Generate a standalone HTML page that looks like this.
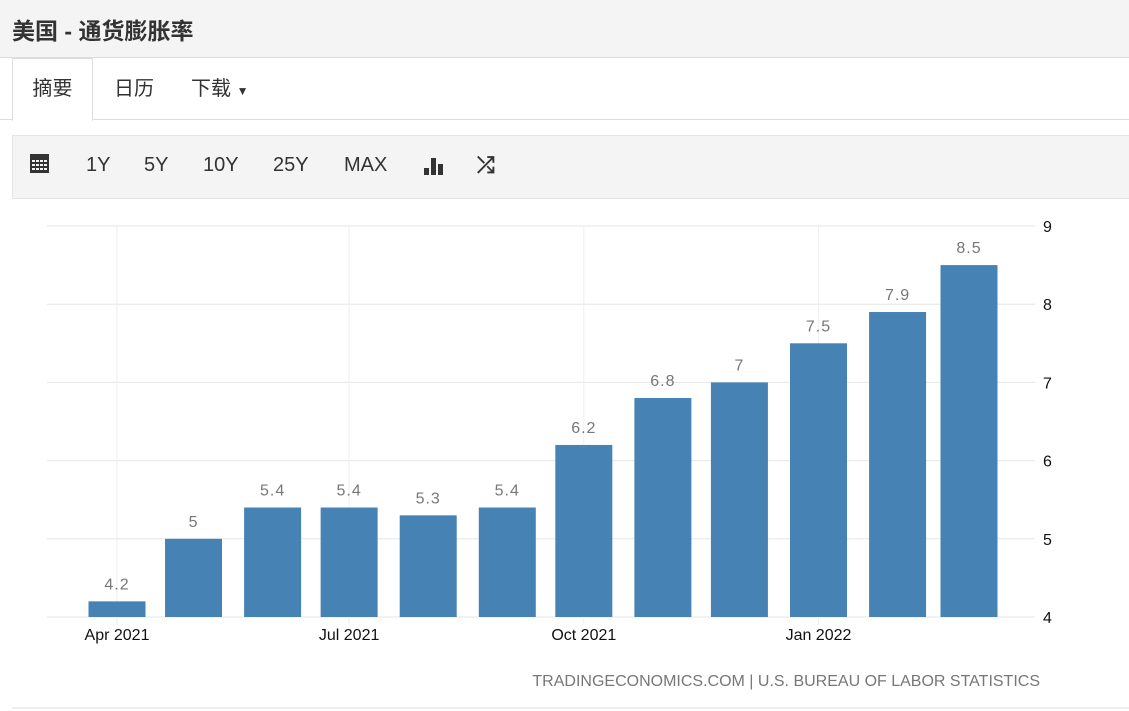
<!DOCTYPE html>
<html><head><meta charset="utf-8"><style>
body{margin:0;width:1129px;height:711px;overflow:hidden;background:#fff;font-family:"Liberation Sans","Noto Sans CJK SC",sans-serif;position:relative}
.hdr{position:absolute;left:0;top:0;width:1129px;height:57px;background:#f4f4f4;border-bottom:1px solid #ddd}
.hdr h1{margin:0;position:absolute;left:12px;top:12px;font-size:23px;font-weight:bold;color:#333}
.tabs{position:absolute;left:0;top:58px;width:1129px;height:61px;border-bottom:1px solid #ddd}
.tab{position:absolute;top:12px;font-size:20px;color:#333}
.tab.active{left:12px;top:0;width:79px;height:62px;border:1px solid #ddd;border-bottom:none;background:#fff;text-align:center;line-height:60px}
.tb{position:absolute;left:12px;top:135px;width:1117px;height:62px;background:#f4f4f4;border:1px solid #e4e4e4;border-right:none}
.tb span{position:absolute;top:18px;font-size:20px;color:#333}
svg{position:absolute;left:0;top:0}
</style></head><body>
<div class="hdr"><h1>美国 - 通货膨胀率</h1></div>
<div class="tabs">
<div class="tab active">摘要</div>
<div class="tab" style="left:114px;top:14px">日历</div>
<div class="tab" style="left:191px;top:14px">下载 <span style="font-size:12px">▼</span></div>
</div>
<div class="tb">
<span style="left:16px;top:16px"><svg width="22" height="22" style="position:static"><rect x="1" y="2" width="19" height="19" fill="#333"/><g fill="#f4f4f4"><rect x="3" y="8" width="3" height="2"/><rect x="7" y="8" width="3" height="2"/><rect x="11" y="8" width="3" height="2"/><rect x="15" y="8" width="3" height="2"/><rect x="3" y="12" width="3" height="2"/><rect x="7" y="12" width="3" height="2"/><rect x="11" y="12" width="3" height="2"/><rect x="15" y="12" width="3" height="2"/><rect x="3" y="16" width="3" height="2"/><rect x="7" y="16" width="3" height="2"/><rect x="11" y="16" width="3" height="2"/><rect x="15" y="16" width="3" height="2"/></g></svg></span>
<span style="left:73px">1Y</span>
<span style="left:131px">5Y</span>
<span style="left:190px">10Y</span>
<span style="left:260px">25Y</span>
<span style="left:331px">MAX</span>
<span style="left:411px;top:20px"><svg width="20" height="20" style="position:static"><rect x="0" y="12" width="5" height="7" fill="#333"/><rect x="7" y="2" width="5" height="17" fill="#333"/><rect x="14" y="8" width="5" height="11" fill="#333"/></svg></span>
<span style="left:464px;top:16px;font-size:22px;font-weight:bold">⤮</span>
</div>
<svg id="chart" width="1129" height="711"></svg>
<script>
const categories=["2021-04-01","2021-05-01","2021-06-01","2021-07-01","2021-08-01","2021-09-01","2021-10-01","2021-11-01","2021-12-01","2022-01-01","2022-02-01","2022-03-01"];
const values=[4.2,5,5.4,5.4,5.3,5.4,6.2,6.8,7,7.5,7.9,8.5];
const labels=["4.2","5","5.4","5.4","5.3","5.4","6.2","6.8","7","7.5","7.9","8.5"];
const yTicks=[4,5,6,7,8,9];
const xTicks=["2021-04-01","2021-07-01","2021-10-01","2022-01-01"];
const xTickLabels=["Apr 2021","Jul 2021","Oct 2021","Jan 2022"];
const NS="http://www.w3.org/2000/svg",svg=document.getElementById('chart');
const t0=Date.parse("2021-04-01"),t1=Date.parse("2022-03-01");
const x=d=>117+(Date.parse(d)-t0)/(t1-t0)*(969-117);
const y=v=>617-(v-4)*(617-226)/5;
function mk(tag,a,txt){const e=document.createElementNS(NS,tag);for(const k in a)e.setAttribute(k,a[k]);if(txt!=null)e.textContent=txt;svg.appendChild(e);return e;}
yTicks.forEach(v=>{
 const l=mk('line',{x1:47,x2:1035,y1:y(v),y2:y(v),stroke:'#e6e6e6','stroke-width':1});
 
 
 const t=mk('text',{x:1043,y:y(v)+6,'font-size':16,fill:'#111'},String(v));
 
 
});
xTicks.forEach((d,i)=>{
 const l=mk('line',{x1:x(d),x2:x(d),y1:226,y2:625,stroke:'#eee','stroke-width':1});
 
 
 const t=mk('text',{x:x(d),y:640,'font-size':16,fill:'#111','text-anchor':'middle'},xTickLabels[i]);
 
 
});
categories.forEach((d,i)=>{
 const cx=x(d),w=57;
 const r=mk('rect',{x:cx-w/2,y:y(values[i]),width:w,height:617-y(values[i]),fill:'#4682b4'});
 
 
 const t=mk('text',{x:cx,y:y(values[i])-12,'font-size':16,fill:'#777','text-anchor':'middle','letter-spacing':'1'},labels[i]);
 
 
});
const src=mk('text',{x:1040,y:686,'font-size':16,fill:'#777','text-anchor':'end'},"TRADINGECONOMICS.COM | U.S. BUREAU OF LABOR STATISTICS");


const bl=mk('line',{x1:12,x2:1129,y1:708,y2:708,stroke:'#eee','stroke-width':2});


</script>
</body></html>
